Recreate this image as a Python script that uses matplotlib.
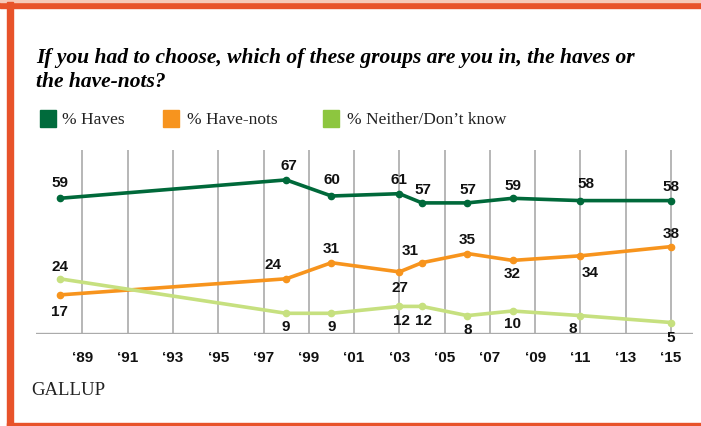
import matplotlib.pyplot as plt
from matplotlib.patches import Rectangle

# survey years and values
years = [1988, 1998, 2000, 2003, 2004, 2006, 2008, 2011, 2015]
haves = [59, 67, 60, 61, 57, 57, 59, 58, 58]
have_nots = [17, 24, 31, 27, 31, 35, 32, 34, 38]
neither = [24, 9, 9, 12, 12, 8, 10, 8, 5]

tick_years = list(range(1989, 2016, 2))
tick_labels = ["\u2018%02d" % (y % 100) for y in tick_years]

title_lines = ["If you had to choose, which of these groups are you in, the haves or",
               "the have-nots?"]
legend_labels = ["% Haves", "% Have-nots", "% Neither/Don\u2019t know"]

# label offsets in pixels (dx, dy), one per point
off_haves = [(0, 15), (3, 14), (0, 16), (0, 14), (1, 13), (1, 13), (0, 12), (6, 17), (0, 14)]
off_have_nots = [(0, -17), (-13, 14), (0, 14), (1, -16), (-12, 12), (0, 14), (0, -14), (10, -17), (0, 13)]
off_neither = [(0, 12), (0, -14), (0, -14), (2, -15), (1, -15), (0, -14), (0, -13), (-8, -13), (0, -15)]

dark_green = "#00693A"
orange = "#F7941D"
light_green = "#C6E07F"
legend_colors = ["#006B3C", "#F7941E", "#8DC63F"]
border = "#E8532A"

W, H = 701, 426
fig = plt.figure(figsize=(W / 100, H / 100), dpi=100)

# orange frame (open on the right)
fig.patches.append(Rectangle((0, (H - 8) / H), 1, 6 / H, transform=fig.transFigure,
                             color=border, zorder=0))
fig.patches.append(Rectangle((0, (H - 2) / H), 1, 2 / H, transform=fig.transFigure,
                             color="#F6C9B8", zorder=0))
fig.patches.append(Rectangle((7 / W, 0), 6 / W, (H - 2) / H, transform=fig.transFigure,
                             color=border, zorder=0))
fig.patches.append(Rectangle((7 / W, 0), 1 - 7 / W, 3 / H, transform=fig.transFigure,
                             color=border, zorder=0))

ax = fig.add_axes([36 / W, (H - 334) / H, (693 - 36) / W, (334 - 150) / H])
ax.set_xlim(1986.95, 2015.97)
ax.set_ylim(0, 80)

for y in tick_years:
    ax.axvline(y, color="#A3A3A3", lw=1.1, zorder=1)
ax.axhline(0, color="#ABABAB", lw=2.4, zorder=2)

series = [(haves, dark_green, off_haves),
          (have_nots, orange, off_have_nots),
          (neither, light_green, off_neither)]
for vals, col, offs in series:
    ax.plot(years, vals, color=col, lw=2.6, marker="o", ms=4.5, zorder=3,
            solid_capstyle="round")
    for x, v, (dx, dy) in zip(years, vals, offs):
        ax.annotate(str(v), (x, v), xytext=(dx, dy), textcoords="offset pixels",
                    ha="center", va="center", fontsize=11, fontweight="bold",
                    family="Liberation Sans", color="#111111", zorder=4)

ax.set_xticks(tick_years)
ax.set_xticklabels(tick_labels, fontsize=11, fontweight="bold",
                   family="Liberation Sans", color="#111111")
ax.tick_params(axis="x", length=0, pad=12)
ax.set_yticks([])
for s in ax.spines.values():
    s.set_visible(False)

for line, base in zip(title_lines, [63, 87]):
    fig.text(36 / W, 1 - base / H, line, family="Liberation Serif",
             fontsize=15.5, fontweight="bold", style="italic", va="baseline")

# legend
sq_x = [40, 163, 323]
tx_x = [62, 187, 347]
for sx, tx, lab, col in zip(sq_x, tx_x, legend_labels, legend_colors):
    fig.patches.append(Rectangle((sx / W, 1 - 127 / H), 16 / W, 17 / H,
                                 transform=fig.transFigure, color=col))
    fig.text(tx / W, 1 - 124 / H, lab, family="Liberation Serif", fontsize=12.5,
             color="#222222", va="baseline")

fig.text(31 / W, 1 - 395 / H, "GALLUP", family="Liberation Serif", fontsize=13.5,
         color="#222222", va="baseline")

fig.savefig("out.png", dpi=100)
